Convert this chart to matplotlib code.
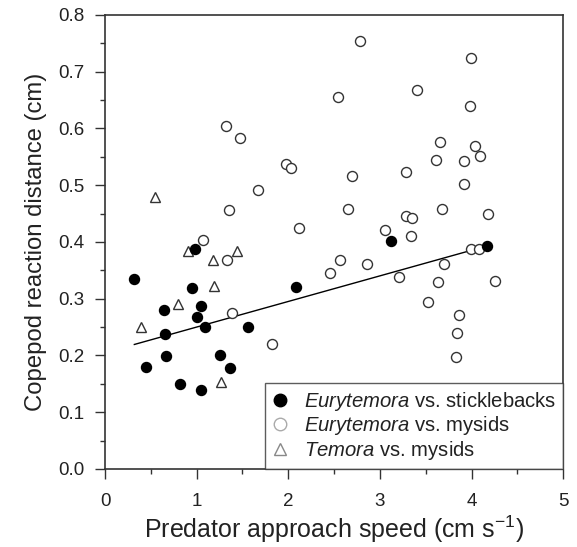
import matplotlib
matplotlib.use("Agg")
import matplotlib.pyplot as plt
from matplotlib.lines import Line2D
import numpy as np

plt.rcParams['font.family'] = ['Liberation Sans', 'DejaVu Sans']
plt.rcParams['mathtext.fontset'] = 'custom'
plt.rcParams['mathtext.rm'] = 'Liberation Sans'
plt.rcParams['mathtext.it'] = 'Liberation Sans:italic'
plt.rcParams['mathtext.bf'] = 'Liberation Sans:bold'

# Eurytemora vs. sticklebacks (filled circles)
stick_x = [0.98, 0.32, 0.95, 2.08, 0.64, 1.05, 1.00, 1.09, 1.56, 0.66, 0.67, 1.26,
           0.45, 1.36, 0.82, 1.05, 3.12, 4.17]
stick_y = [0.387, 0.334, 0.319, 0.320, 0.280, 0.288, 0.268, 0.250, 0.251, 0.238, 0.199, 0.200,
           0.180, 0.178, 0.150, 0.140, 0.402, 0.393]

# Eurytemora vs. mysids (open circles)
mysid_x = [2.54, 1.32, 1.47, 1.98, 2.03, 1.67, 1.35, 2.12, 1.07, 2.78, 3.99, 3.41, 3.98,
           3.66, 4.04, 4.09, 3.61, 3.92, 2.70, 3.28, 3.92, 2.65, 3.68, 4.18, 3.29, 3.35,
           3.06, 3.34, 2.57, 2.86, 2.46, 3.99, 4.08, 3.70, 3.21, 3.63, 4.26, 3.52, 3.86,
           3.84, 3.83, 1.33, 1.39, 1.82]
mysid_y = [0.655, 0.605, 0.583, 0.537, 0.530, 0.492, 0.456, 0.424, 0.404, 0.754, 0.725, 0.668, 0.640,
           0.577, 0.569, 0.552, 0.545, 0.543, 0.517, 0.523, 0.503, 0.458, 0.458, 0.450, 0.446, 0.442,
           0.422, 0.410, 0.368, 0.362, 0.346, 0.387, 0.387, 0.361, 0.339, 0.330, 0.332, 0.294, 0.272,
           0.240, 0.197, 0.368, 0.275, 0.220]

# Temora vs. mysids (open triangles)
temora_x = [0.55, 0.91, 1.18, 1.44, 1.19, 0.80, 0.39, 1.27]
temora_y = [0.479, 0.384, 0.368, 0.384, 0.322, 0.291, 0.251, 0.153]

# Regression line for sticklebacks
fit_intercept = 0.205
fit_slope = 0.0451

legend_labels = [r'$\it{Eurytemora}$ vs. sticklebacks',
                 r'$\it{Eurytemora}$ vs. mysids',
                 r'$\it{Temora}$ vs. mysids']

fig = plt.figure(figsize=(5.77, 5.47), dpi=100)
ax = fig.add_axes([0.182, 0.1426, 0.794, 0.830])

ax.plot(mysid_x, mysid_y, linestyle='none', marker='o', ms=7.2, mfc='white',
        mec='#333333', mew=1.0, zorder=3)
ax.plot(temora_x, temora_y, linestyle='none', marker='^', ms=7.2, mfc='white',
        mec='#333333', mew=1.0, zorder=3)
ax.plot(stick_x, stick_y, linestyle='none', marker='o', ms=7.2, mfc='black',
        mec='black', mew=1.0, zorder=4)

lx = np.array([min(stick_x), max(stick_x)])
ax.plot(lx, fit_intercept + fit_slope * lx, color='black', lw=1.0, zorder=2)

ax.set_xlim(0, 5)
ax.set_ylim(0, 0.8)
ax.set_xticks([0, 1, 2, 3, 4, 5])
ax.set_xticks(np.arange(0.5, 5, 1.0), minor=True)
ax.set_yticks(np.arange(0, 0.81, 0.1))
ax.set_yticks(np.arange(0.05, 0.8, 0.1), minor=True)
ax.set_yticklabels([f"{v:.1f}" for v in np.arange(0, 0.81, 0.1)])
ax.tick_params(which='major', direction='out', length=7, width=1.0, labelsize=13.5,
               color='#333333', labelcolor='#222222')
ax.tick_params(which='minor', direction='out', length=3.5, width=1.0, color='#333333')
ax.tick_params(axis='x', which='major', pad=10)
ax.tick_params(axis='y', which='major', pad=8)
for s in ax.spines.values():
    s.set_linewidth(1.2)
    s.set_color('#333333')

ax.set_xlabel('Predator approach speed (cm s$^{-1}$)', fontsize=18, labelpad=3, color='#222222')
ax.set_ylabel('Copepod reaction distance (cm)', fontsize=17.2, labelpad=8, color='#222222')

h2 = [Line2D([], [], ls='none', marker='o', ms=9, mfc='black', mec='black'),
      Line2D([], [], ls='none', marker='o', ms=9, mfc='white', mec='#aaaaaa'),
      Line2D([], [], ls='none', marker='^', ms=9, mfc='white', mec='#888888')]
leg = ax.legend(h2, legend_labels, loc='lower right', fontsize=14.6, frameon=True, fancybox=False,
                edgecolor='#333333', borderaxespad=0, handletextpad=0.85, labelspacing=0.08,
                borderpad=0.35, handlelength=0.7)
leg.get_frame().set_linewidth(1.0)
for t in leg.get_texts():
    t.set_color('#222222')

fig.savefig('out.png', dpi=100)
